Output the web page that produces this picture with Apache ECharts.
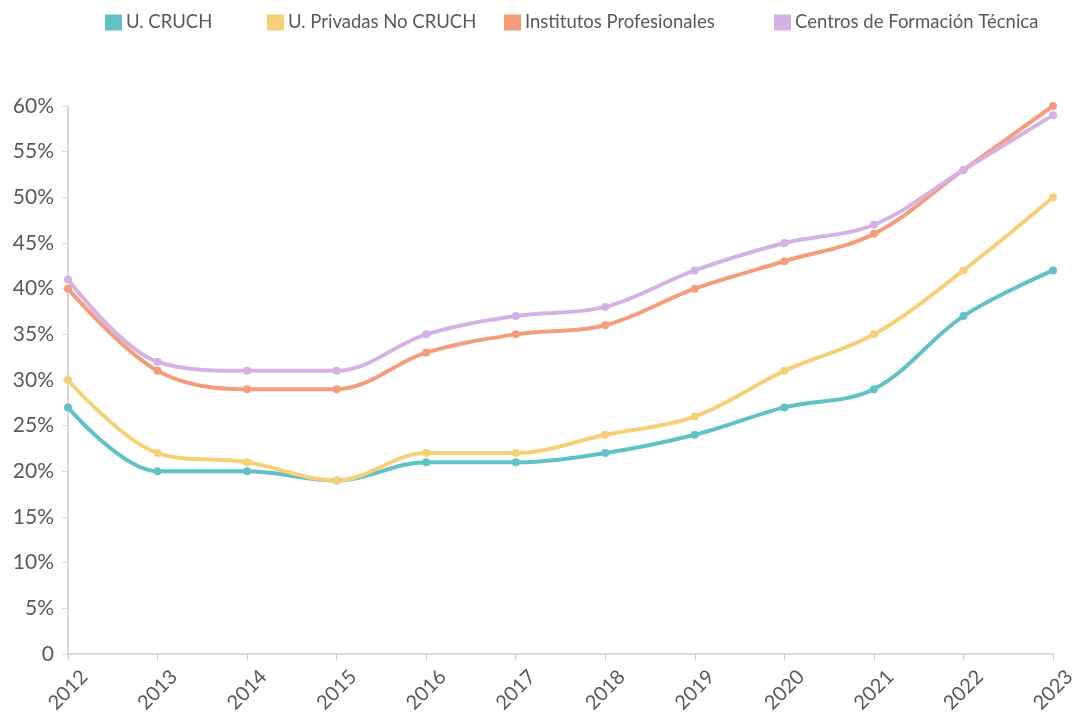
<!DOCTYPE html>
<html>
<head>
<meta charset="utf-8">
<script src="https://cdn.jsdelivr.net/npm/echarts@6/dist/echarts.min.js"></script>
<style>
  html, body { margin: 0; padding: 0; background: #fff; }
  #chart { width: 1073px; height: 717px; }
</style>
</head>
<body>
<div id="chart"></div>
<script>
const years = ["2012", "2013", "2014", "2015", "2016", "2017", "2018", "2019", "2020", "2021", "2022", "2023"];
const uCruch = [27, 20, 20, 19, 21, 21, 22, 24, 27, 29, 37, 42];
const uPrivadas = [30, 22, 21, 19, 22, 22, 24, 26, 31, 35, 42, 50];
const institutos = [40, 31, 29, 29, 33, 35, 36, 40, 43, 46, 53, 60];
const centros = [41, 32, 31, 31, 35, 37, 38, 42, 45, 47, 53, 59];

const seriesNames = ["U. CRUCH", "U. Privadas No CRUCH", "Institutos Profesionales", "Centros de Formación Técnica"];
const colors = ["#62c1c5", "#f6d077", "#f49d7b", "#d6b1e4"];
const legendLeft = [100, 262, 499, 769];

const chart = echarts.init(document.getElementById("chart"));

// una serie por institución
function makeSeries(name, data, color) {
  return {
    name: name,
    type: "line",
    smooth: 0.35,
    data: data,
    symbol: "circle",
    symbolSize: 8,
    lineStyle: { width: 4, color: color },
    itemStyle: { color: color },
  };
}

// cada leyenda en su sitio, como en el original
const legends = seriesNames.map((n, i) => ({
  top: 8,
  left: legendLeft[i],
  itemWidth: 17,
  itemHeight: 16,
  itemGap: 0,
  icon: "rect",
  textStyle: { fontSize: 18.5, color: "#595959", padding: [0, 0, 0, -1] },
  data: [n],
}));

const option = {
  animation: false,
  textStyle: { fontFamily: "Lato, 'Open Sans', sans-serif" },
  legend: legends,
  grid: { left: 68, right: 20, top: 106, bottom: 63, outerBoundsMode: "none", containLabel: false },
  xAxis: {
    type: "category",
    boundaryGap: false,
    data: years,
    axisLine: { lineStyle: { color: "#ccc", width: 1.5 } },
    axisTick: { show: true, alignWithLabel: true, length: 6, lineStyle: { color: "#ccc" } },
    axisLabel: {
      rotate: 45,
      fontSize: 20,
      color: "#595959",
      margin: 36,
      align: "center",
      verticalAlign: "middle",
      hideOverlap: false,
    },
  },
  yAxis: {
    type: "value",
    min: 0,
    max: 60,
    interval: 5,
    axisLine: { show: true, lineStyle: { color: "#ccc", width: 1.5 } },
    axisTick: { show: true, length: 6, lineStyle: { color: "#ddd" } },
    splitLine: { show: false },
    axisLabel: {
      fontSize: 21,
      color: "#595959",
      margin: 14,
      formatter: v => (v === 0 ? "0" : v + "%"),
    },
  },
  series: [
    makeSeries(seriesNames[0], uCruch, colors[0]),
    makeSeries(seriesNames[1], uPrivadas, colors[1]),
    makeSeries(seriesNames[2], institutos, colors[2]),
    makeSeries(seriesNames[3], centros, colors[3]),
  ],
};

chart.setOption(option);
</script>
</body>
</html>
